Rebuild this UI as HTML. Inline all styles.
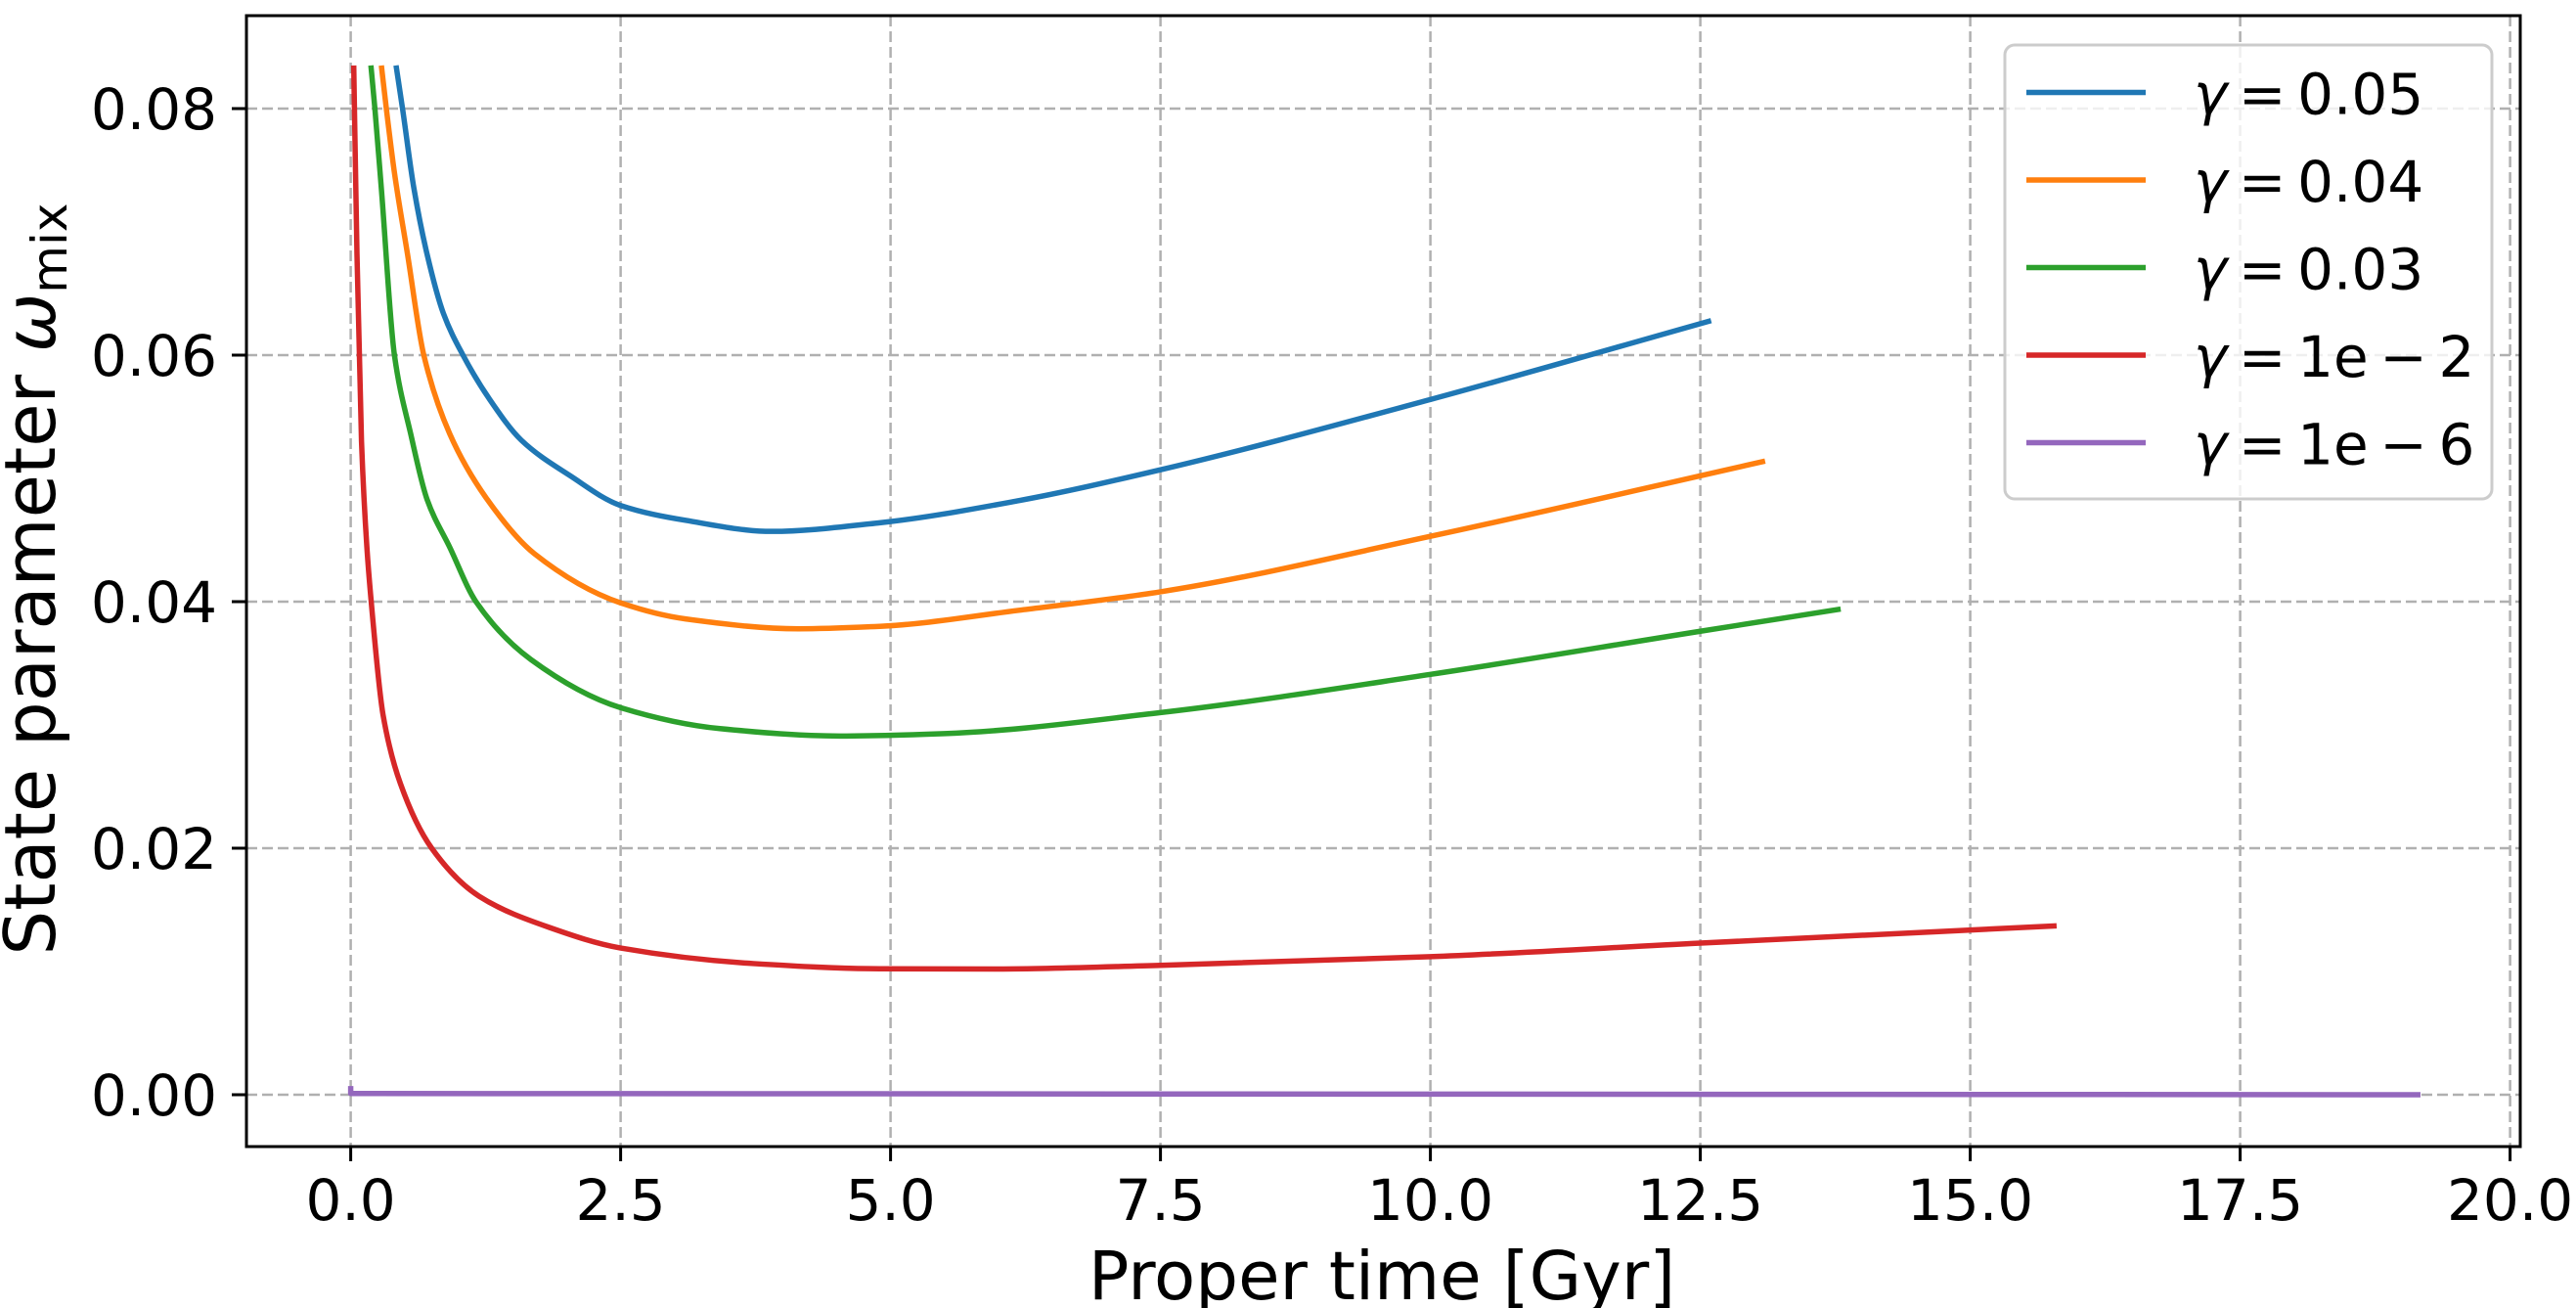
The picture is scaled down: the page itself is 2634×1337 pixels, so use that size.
<!DOCTYPE html>
<html><head><meta charset="utf-8"><style>
html,body{margin:0;padding:0;background:#fff;}
svg{display:block;font-family:"DejaVu Sans","Liberation Sans",sans-serif;}
</style></head><body>
<svg id="chart" width="2634" height="1337" viewBox="0 0 2634 1337" xmlns="http://www.w3.org/2000/svg">
<rect x="0" y="0" width="2634" height="1337" fill="#fff"/>
<g id="grid"></g>
<g id="series"></g>
<g id="axes"></g>
<text x="1413" y="1328" font-size="69" text-anchor="middle">Proper time [Gyr]</text>
<text transform="translate(56,592) rotate(-90)" font-size="72" text-anchor="middle">State parameter  <tspan font-style="italic">ω</tspan><tspan font-size="50" dy="12">mix</tspan></text>
<g id="legend"></g>
</svg>
<script>
const xTicks = [0, 2.5, 5, 7.5, 10, 12.5, 15, 17.5, 20];
const xTickLabels = ["0.0","2.5","5.0","7.5","10.0","12.5","15.0","17.5","20.0"];
const yTicks = [0, 0.02, 0.04, 0.06, 0.08];
const yTickLabels = ["0.00","0.02","0.04","0.06","0.08"];
const seriesValues = ["0.05","0.04","0.03","1e\u2009\u2212\u20092","1e\u2009\u2212\u20096"];
const seriesColors = ["#1f77b4","#ff7f0e","#2ca02c","#d62728","#9467bd"];
const blueX = [0.42,0.48,0.586,0.707,0.858,1.04,1.28,1.58,2.035,2.5,3.1,3.9,4.9,6.19,7.5,10,12.6];
const blueY = [0.0835,0.08,0.0735,0.0682,0.0634,0.06,0.0565,0.0531,0.0502,0.0478,0.0466,0.0457,0.0464,0.0482,0.0507,0.0564,0.0628];
const orangeX = [0.284,0.33,0.405,0.526,0.677,0.918,1.256,1.70,2.5,3.1,4.15,4.9,6.19,7.5,10,13.1];
const orangeY = [0.0835,0.08,0.0748,0.0682,0.06,0.0536,0.0484,0.0439,0.0399,0.0386,0.0378,0.038,0.0393,0.0408,0.0453,0.0514];
const greenX = [0.187,0.224,0.284,0.405,0.556,0.707,0.918,1.16,1.67,2.5,3.42,4.53,5.5,7.5,10,12.5,13.8];
const greenY = [0.0835,0.08,0.0735,0.06,0.0536,0.0483,0.0444,0.04,0.0353,0.0314,0.0297,0.0291,0.0293,0.031,0.0341,0.0376,0.0394];
const redX = [0.028,0.058,0.10,0.15,0.19,0.30,0.46,0.75,1.19,1.83,2.5,3.73,4.9,6.0,7.5,10,12.5,15.8];
const redY = [0.0835,0.0682,0.053,0.0444,0.04,0.0308,0.02525,0.02,0.0161,0.0136,0.0119,0.01064,0.01022,0.0102,0.0105,0.0112,0.0123,0.0137];
const purpleX = [0,0,0.02,19.17];
const purpleY = [0.0007,0.0001,0.0001,0];

const NS="http://www.w3.org/2000/svg";
const L=252,R=2577,T=16,B=1172;
function sx(v){return 358.6+v*110.4;}
function sy(v){return 1119-v/0.02*252;}
function mk(tag,attrs,parent){const e=document.createElementNS(NS,tag);for(const k in attrs)e.setAttribute(k,attrs[k]);parent.appendChild(e);return e;}
const grid=document.getElementById('grid'),axes=document.getElementById('axes'),ser=document.getElementById('series'),leg=document.getElementById('legend');
xTicks.forEach((t,i)=>{
  const g=mk('line',{x1:sx(t),x2:sx(t),y1:T,y2:B,stroke:'#b0b0b0','stroke-width':2.5,'stroke-dasharray':'11,5'},grid);
  
  
  const tk=mk('line',{x1:sx(t),x2:sx(t),y1:B,y2:B+15,stroke:'#000','stroke-width':3},axes);
  
  
  const tx=mk('text',{x:sx(t),y:1247,'font-size':58,'text-anchor':'middle'},axes);
  tx.textContent=xTickLabels[i];
  
  
});
yTicks.forEach((t,i)=>{
  const g=mk('line',{x1:L,x2:R,y1:sy(t),y2:sy(t),stroke:'#b0b0b0','stroke-width':2.5,'stroke-dasharray':'11,5'},grid);
  
  
  const tk=mk('line',{x1:L-15,x2:L,y1:sy(t),y2:sy(t),stroke:'#000','stroke-width':3},axes);
  
  
  const tx=mk('text',{x:222,y:sy(t)+21,'font-size':58,'text-anchor':'end'},axes);
  tx.textContent=yTickLabels[i];
  
  
});
const frame=mk('rect',{x:L,y:T,width:R-L,height:B-T,fill:'none',stroke:'#000','stroke-width':3},axes);


const allX=[blueX,orangeX,greenX,redX,purpleX],allY=[blueY,orangeY,greenY,redY,purpleY];
const names=['series-gamma-0-05','series-gamma-0-04','series-gamma-0-03','series-gamma-1e-2','series-gamma-1e-6'];
function monoPath(xs,ys){
  const X=xs.map(sx),Y=ys.map(sy),n=X.length;
  const d=[],m=new Array(n);
  for(let i=0;i<n-1;i++)d.push((Y[i+1]-Y[i])/(X[i+1]-X[i]));
  m[0]=d[0];m[n-1]=d[n-2];
  for(let i=1;i<n-1;i++){
    if(d[i-1]*d[i]<=0)m[i]=0;
    else{const h0=X[i]-X[i-1],h1=X[i+1]-X[i];const w1=2*h1+h0,w2=h1+2*h0;m[i]=(w1+w2)/(w1/d[i-1]+w2/d[i]);}
  }
  let s='M'+X[0]+','+Y[0];
  for(let i=0;i<n-1;i++){
    const h=X[i+1]-X[i];
    s+=' C'+(X[i]+h/3)+','+(Y[i]+m[i]*h/3)+' '+(X[i+1]-h/3)+','+(Y[i+1]-m[i+1]*h/3)+' '+X[i+1]+','+Y[i+1];
  }
  return s;
}
allX.forEach((xs,k)=>{
  const d=k===4?('M'+xs.map((x,i)=>sx(x)+','+sy(allY[k][i])).join(' L')):monoPath(xs,allY[k]);
  const p=mk('path',{d:d,fill:'none',stroke:seriesColors[k],'stroke-width':5.5,'stroke-linejoin':'round'},ser);
  
  
});
const box=mk('rect',{x:2050,y:46,width:498,height:464,rx:10,fill:'#fff','fill-opacity':0.8,stroke:'#cccccc','stroke-width':3},leg);


seriesValues.forEach((n,k)=>{
  const yy=94.5+k*89.5;
  const ln=mk('line',{x1:2072,x2:2194,y1:yy,y2:yy,stroke:seriesColors[k],'stroke-width':5.5},leg);
  
  
  const t=mk('text',{x:2243,y:yy+22,'font-size':58},leg);
  
  
  const g=mk('tspan',{'font-style':'italic'},t);g.textContent='γ';
  const r=mk('tspan',{},t);r.textContent='\u2009=\u2009'+n;
});
</script>
</body></html>
